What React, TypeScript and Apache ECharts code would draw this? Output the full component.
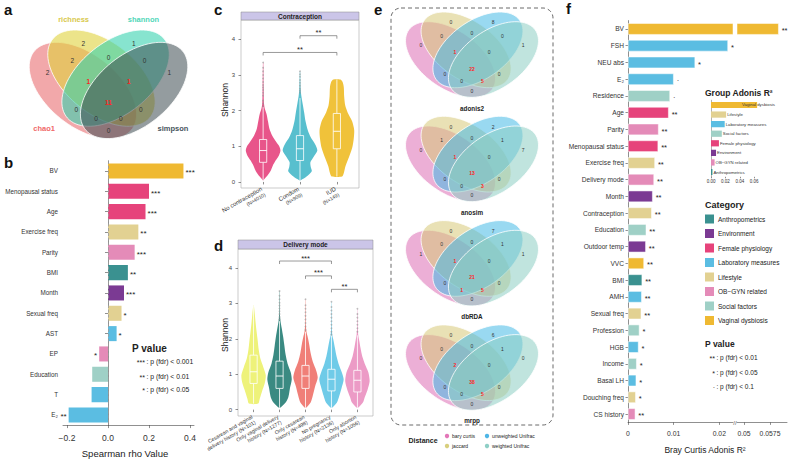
import React, { useEffect, useRef } from "react";
import * as echarts from "echarts";

const FONT = "'Liberation Sans', Arial, Helvetica, sans-serif";

// ---------------- Panel a : alpha-diversity Venn ----------------
const vennRegions = ["A", "B", "C", "D", "AB", "AC", "AD", "BC", "BD", "CD", "ABC", "ABD", "ACD", "BCD", "ABCD"];
const alphaSets = ["chao1", "richness", "shannon", "simpson"];
const alphaCounts = [2, 2, 1, 1, 2, 0, 0, 0, 0, 0, 1, 0, 0, 1, 11];

// ---------------- Panel e : beta-diversity Venns ----------------
const distanceMethods = ["adonis2", "anosim", "dbRDA", "mrpp"];
const distanceNames = ["bary curtis", "jaccard", "unweighted Unifrac", "weighted Unifrac"];
const adonis2Counts = [0, 0, 8, 1, 0, 0, 0, 0, 0, 0, 1, 5, 0, 0, 22];
const anosimCounts = [0, 0, 2, 7, 1, 0, 0, 0, 0, 1, 1, 3, 0, 0, 13];
const dbRDACounts = [1, 0, 7, 1, 0, 0, 0, 0, 0, 1, 1, 5, 1, 0, 21];
const mrppCounts = [0, 0, 6, 0, 0, 0, 0, 0, 0, 1, 2, 5, 0, 0, 38];

// ---------------- Categories ----------------
const categoryNames = ["Anthropometrics", "Environment", "Female physiology", "Laboratory measures", "Lifestyle", "OB\u2212GYN related", "Social factors", "Vaginal dysbiosis"];
const categoryColors = ["#3a9190", "#7b3a93", "#e6437b", "#5bbde2", "#e2d192", "#e48bb8", "#9fd0c6", "#efb932"];

// ---------------- Panel b : Spearman ----------------
const bFactors = ["BV", "Menopausal status", "Age", "Exercise freq", "Parity", "BMI", "Month", "Sexual freq", "AST", "EP", "Education", "T", "E\u2082"];
const bRho = [0.368, 0.2, 0.183, 0.148, 0.13, 0.097, 0.078, 0.066, 0.042, -0.043, -0.077, -0.08, -0.192];
const bSig = ["***", "***", "***", "**", "***", "**", "***", "*", "*", "*", "", "", "**"];
const bCategory = ["Vaginal dysbiosis", "Female physiology", "Female physiology", "Lifestyle", "OB\u2212GYN related", "Anthropometrics", "Environment", "Lifestyle", "Laboratory measures", "OB\u2212GYN related", "Social factors", "Laboratory measures", "Laboratory measures"];
const bTicks = [-0.2, 0, 0.2, 0.4];

// ---------------- Panel f : Adonis R2 ----------------
const fFactors = ["BV", "FSH", "NEU abs", "E\u2082", "Residence", "Age", "Parity", "Menopausal status", "Exercise freq", "Delivery mode", "Month", "Contraception", "Education", "Outdoor temp", "VVC", "BMI", "AMH", "Sexual freq", "Profession", "HGB", "Income", "Basal LH", "Douching freq", "CS history"];
const fR2 = [0.06, 0.0219, 0.0147, 0.01, 0.0092, 0.0089, 0.0067, 0.0066, 0.0059, 0.0057, 0.0054, 0.0052, 0.004, 0.0039, 0.0035, 0.0031, 0.003, 0.0029, 0.0025, 0.0023, 0.0019, 0.0018, 0.0017, 0.0016];
const fSig = ["**", "*", "*", "\u00b7", "\u00b7", "**", "**", "**", "**", "**", "**", "**", "**", "**", "**", "**", "**", "**", "*", "*", "*", "*", "*", "**"];
const fCategory = ["Vaginal dysbiosis", "Laboratory measures", "Laboratory measures", "Laboratory measures", "Social factors", "Female physiology", "OB\u2212GYN related", "Female physiology", "Lifestyle", "OB\u2212GYN related", "Environment", "Lifestyle", "Social factors", "Environment", "Vaginal dysbiosis", "Anthropometrics", "Laboratory measures", "Lifestyle", "Social factors", "Laboratory measures", "Social factors", "Laboratory measures", "Lifestyle", "OB\u2212GYN related"];
const fTicksLow = [0, 0.01, 0.02];
const fTickLabelsLow = ["0", "0.01", "0.02"];
const fTicksHigh = [0.05, 0.0575];
const fTickLabelsHigh = ["0.05", "0.0575"];

const groupNames = ["Vaginal dysbiosis", "Lifestyle", "Laboratory measures", "Social factors", "Female physiology", "Environment", "OB\u2212GYN related", "Anthropometrics"];
const groupR2 = [0.064, 0.021, 0.019, 0.015, 0.011, 0.007, 0.005, 0.002];
const groupTicks = [0, 0.02, 0.04, 0.06];

// ---------------- Panel c : Contraception ----------------
const contraceptionLabels = ["No contraception", "Condom", "IUD"];
const contraceptionN = ["(N=4010)", "(N=909)", "(N=149)"];
const contraceptionColors = ["#e8558a", "#58bfce", "#f0c23a"];
const contraceptionDensity = [
  [[0.05, 0.02], [0.15, 0.2], [0.3, 0.42], [0.45, 0.55], [0.6, 0.72], [0.75, 0.92], [0.88, 1.0], [1.0, 0.93], [1.15, 0.72], [1.3, 0.52], [1.5, 0.36], [1.7, 0.28], [1.9, 0.2], [2.05, 0.1], [2.2, 0.05], [2.6, 0.03], [3.35, 0.01]],
  [[0.05, 0.05], [0.15, 0.38], [0.3, 0.68], [0.42, 0.62], [0.55, 0.6], [0.7, 0.78], [0.88, 1.0], [1.05, 0.88], [1.25, 0.62], [1.45, 0.45], [1.7, 0.32], [1.95, 0.24], [2.2, 0.15], [2.4, 0.08], [2.6, 0.04], [3.1, 0.01]],
  [[0.15, 0.3], [0.25, 0.4], [0.45, 0.5], [0.7, 0.7], [0.95, 0.88], [1.2, 0.97], [1.45, 1.0], [1.7, 0.88], [1.95, 0.62], [2.15, 0.48], [2.4, 0.42], [2.65, 0.4], [2.8, 0.33], [2.87, 0.2]],
];
const contraceptionBox = [
  [0.05, 0.55, 0.88, 1.19, 2.1],
  [0.05, 0.6, 0.93, 1.3, 2.35],
  [0.15, 0.93, 1.42, 1.92, 2.87],
];
const contraceptionOutliers = [
  [2.12, 2.2, 2.28, 2.35, 2.42, 2.5, 2.58, 2.65, 2.72, 2.8, 2.9, 3.0, 3.1, 3.2, 3.35],
  [2.5, 2.56, 2.62, 2.7, 2.78, 2.86, 2.95, 3.02, 3.1],
  [],
];
const contraceptionSig = [[2, 3, 4.1], [1, 3, 3.63]];
const contraceptionSigLabels = ["**", "**"];

// ---------------- Panel d : Delivery mode ----------------
const deliveryLabels = ["Cesarean and vaginal", "Only vaginal delivery", "Only cesarean", "No pregnancy", "Only abortion"];
const deliveryN = ["delivery history (N=101)", "history (N=1277)", "history (N=498)", "history (N=2136)", "history (N=1056)"];
const deliveryColors = ["#eef27a", "#3a8a82", "#f07f78", "#6fcbe8", "#ec9bc6"];
const deliveryDensity = [
  [[0.17, 0.38], [0.3, 0.5], [0.5, 0.68], [0.75, 0.92], [0.97, 1.0], [1.2, 0.8], [1.45, 0.55], [1.7, 0.42], [1.95, 0.34], [2.2, 0.25], [2.45, 0.17], [2.7, 0.1], [2.95, 0.02]],
  [[0.05, 0.05], [0.2, 0.5], [0.35, 0.72], [0.6, 0.85], [0.85, 1.0], [1.05, 0.92], [1.3, 0.66], [1.55, 0.5], [1.8, 0.4], [2.05, 0.3], [2.3, 0.18], [2.5, 0.08], [2.7, 0.03], [3.35, 0.01]],
  [[0.05, 0.05], [0.2, 0.42], [0.4, 0.6], [0.65, 0.78], [0.9, 1.0], [1.1, 0.88], [1.35, 0.6], [1.6, 0.42], [1.85, 0.3], [2.05, 0.18], [2.2, 0.08], [2.4, 0.03], [3.12, 0.01]],
  [[0.05, 0.05], [0.2, 0.45], [0.4, 0.65], [0.6, 0.82], [0.85, 1.0], [1.05, 0.85], [1.3, 0.58], [1.5, 0.42], [1.75, 0.28], [1.95, 0.17], [2.1, 0.07], [2.3, 0.03], [3.05, 0.01]],
  [[0.05, 0.05], [0.2, 0.45], [0.35, 0.6], [0.55, 0.82], [0.8, 1.0], [1.05, 0.9], [1.3, 0.6], [1.5, 0.4], [1.75, 0.25], [1.95, 0.15], [2.1, 0.07], [2.3, 0.03], [2.85, 0.01]],
];
const deliveryBox = [
  [0.17, 0.74, 1.07, 1.54, 2.95],
  [0.05, 0.6, 0.95, 1.37, 2.5],
  [0.05, 0.6, 0.95, 1.25, 2.2],
  [0.05, 0.53, 0.86, 1.14, 2.1],
  [0.05, 0.5, 0.83, 1.11, 2.1],
];
const deliveryOutliers = [
  [],
  [2.55, 2.62, 2.7, 2.78, 2.86, 2.94, 3.02, 3.12, 3.22, 3.35],
  [2.25, 2.35, 2.45, 2.55, 2.65, 2.75, 2.85, 2.95, 3.12],
  [2.12, 2.2, 2.3, 2.4, 2.5, 2.6, 2.7, 2.8, 2.9, 3.05],
  [2.2, 2.3, 2.4, 2.5, 2.6, 2.7, 2.85],
];
const deliverySig = [[2, 4, 4.2], [3, 4, 3.78], [4, 5, 3.4]];
const deliverySigLabels = ["***", "***", "**"];
const shannonTicks = [0, 1, 2, 3, 4];

// ---------------- Venn geometry (unit square, y up) ----------------
const ELL = [
  { cx: 0.355, cy: 0.44, ang: -50 },
  { cx: 0.46, cy: 0.525, ang: -50 },
  { cx: 0.54, cy: 0.525, ang: 50 },
  { cx: 0.645, cy: 0.44, ang: 50 },
];
const ELL_A = 0.39;
const ELL_B = 0.225;
const VTOP = 0.857;
const regionPos: Record<string, number[]> = {
  A: [0.155, 0.565], B: [0.357, 0.765], C: [0.643, 0.765], D: [0.845, 0.565],
  AB: [0.295, 0.648], AC: [0.317, 0.31], AD: [0.5, 0.165], BC: [0.5, 0.669],
  BD: [0.683, 0.31], CD: [0.705, 0.648], ABC: [0.385, 0.503], ABD: [0.57, 0.248],
  ACD: [0.43, 0.248], BCD: [0.615, 0.503], ABCD: [0.5, 0.358],
};

function vennElements(cx: number, top: number, W: number, H: number, fills: string[], counts: number[], fs: number) {
  const tf = (u: number, v: number) => [cx + (u - 0.5) * W, top + (VTOP - v) * H];
  const els: any[] = [];
  ELL.forEach((e, k) => {
    const th = (e.ang * Math.PI) / 180;
    const pts: number[][] = [];
    for (let j = 0; j < 90; j++) {
      const t = (2 * Math.PI * j) / 90;
      const u = e.cx + ELL_A * Math.cos(t) * Math.cos(th) - ELL_B * Math.sin(t) * Math.sin(th);
      const v = e.cy + ELL_A * Math.cos(t) * Math.sin(th) + ELL_B * Math.sin(t) * Math.cos(th);
      pts.push(tf(u, v));
    }
    els.push({ type: "polygon", silent: true, z: 1, shape: { points: pts }, style: { fill: fills[k], stroke: "#ffffff", lineWidth: 0.8 } });
  });
  vennRegions.forEach((r, i) => {
    const p = tf(regionPos[r][0], regionPos[r][1]);
    const red = r.length >= 3 && counts[i] > 0;
    els.push({
      type: "text", silent: true, z: 5, x: p[0], y: p[1],
      style: { text: String(counts[i]), fontSize: fs, fill: red ? "#ff1f1f" : "#333", fontWeight: red ? "bold" : "normal", align: "center", verticalAlign: "middle", fontFamily: FONT },
    });
  });
  return { els, tf };
}

function catColor(name: string) {
  return categoryColors[categoryNames.indexOf(name)];
}

function violinSeries(ax: number, colors: string[], dens: number[][][], box: number[][], outl: number[][]) {
  return {
    type: "custom",
    xAxisIndex: ax,
    yAxisIndex: ax,
    silent: true,
    z: 3,
    data: box.map((b, i) => [i + 1, b[2]]),
    renderItem: (params: any, api: any) => {
      const i = params.dataIndex;
      const x = api.value(0);
      const bw = api.size([1, 0])[0];
      const hw = bw * 0.47;
      const bh = 3.6;
      const c = (y: number) => api.coord([x, y]);
      const pts: number[][] = [];
      dens[i].forEach(([y, w]) => {
        const p = c(y);
        pts.push([p[0] + w * hw, p[1]]);
      });
      for (let k = dens[i].length - 1; k >= 0; k--) {
        const [y, w] = dens[i][k];
        const p = c(y);
        pts.push([p[0] - w * hw, p[1]]);
      }
      const [mn, q1, md, q3, mx] = box[i];
      const px = c(md)[0];
      const children: any[] = [
        { type: "polygon", shape: { points: pts, smooth: 0.25 }, style: { fill: colors[i], stroke: "none" } },
        { type: "line", shape: { x1: px, y1: c(mn)[1], x2: px, y2: c(q1)[1] }, style: { stroke: "#ffffff", lineWidth: 0.8 } },
        { type: "line", shape: { x1: px, y1: c(q3)[1], x2: px, y2: c(mx)[1] }, style: { stroke: "#ffffff", lineWidth: 0.8 } },
        { type: "rect", shape: { x: px - bh, y: c(q3)[1], width: 2 * bh, height: c(q1)[1] - c(q3)[1] }, style: { fill: colors[i], stroke: "#ffffff", lineWidth: 0.8 } },
        { type: "line", shape: { x1: px - bh, y1: c(md)[1], x2: px + bh, y2: c(md)[1] }, style: { stroke: "#ffffff", lineWidth: 0.9 } },
      ];
      outl[i].forEach((y) => {
        children.push({ type: "circle", shape: { cx: px, cy: c(y)[1], r: 0.9 }, style: { fill: "rgba(150,150,150,0.6)" } });
      });
      return { type: "group", children };
    },
  };
}

function bracketSeries(ax: number, sig: number[][], labels: string[]) {
  return {
    type: "custom",
    xAxisIndex: ax,
    yAxisIndex: ax,
    silent: true,
    z: 4,
    data: sig,
    renderItem: (params: any, api: any) => {
      const p1 = api.coord([api.value(0), api.value(2)]);
      const p2 = api.coord([api.value(1), api.value(2)]);
      return {
        type: "group",
        children: [
          { type: "polyline", shape: { points: [[p1[0], p1[1] + 3], [p1[0], p1[1]], [p2[0], p2[1]], [p2[0], p2[1] + 3]] }, style: { stroke: "#555", lineWidth: 0.6, fill: "none" } },
          { type: "text", x: (p1[0] + p2[0]) / 2, y: p1[1] + 1, style: { text: labels[params.dataIndex], fontSize: 7.5, fill: "#222", align: "center", verticalAlign: "bottom", fontFamily: FONT } },
        ],
      };
    },
  };
}

function buildOption() {
  const graphic: any[] = [];
  const txt = (x: number, y: number, text: string, o: any = {}) =>
    graphic.push({ type: "text", silent: true, z: 10, x, y, rotation: o.rotation || 0, style: { text, fontSize: o.fs || 7, fill: o.fill || "#222", fontWeight: o.bold ? "bold" : "normal", align: o.align || "left", verticalAlign: "middle", fontFamily: FONT } });

  // panel letters
  [["a", 4, 9], ["b", 4, 162], ["c", 214, 9], ["d", 214, 245], ["e", 374, 9], ["f", 566, 8]].forEach(([l, x, y]: any) => txt(x, y, l, { fs: 15, bold: true, fill: "#111" }));

  // Panel a venn
  const aFills = ["rgba(232,96,100,0.55)", "rgba(224,210,60,0.6)", "rgba(55,210,175,0.6)", "rgba(60,75,80,0.55)"];
  const va = vennElements(108.5, 30, 176.5, 145, aFills, alphaCounts, 6.5);
  graphic.push(...va.els);
  const aLabelPos = [[0.135, 0.181], [0.302, 0.926], [0.698, 0.926], [0.865, 0.181]];
  const aLabelCol = ["#f06868", "#d8c84a", "#4fd6b8", "#46545c"];
  alphaSets.forEach((s, k) => {
    const p = va.tf(aLabelPos[k][0], aLabelPos[k][1]);
    txt(p[0], p[1], s, { fs: 7.5, bold: true, fill: aLabelCol[k], align: "center" });
  });

  // Panel e venns
  const eFills = ["rgba(220,110,180,0.55)", "rgba(215,200,120,0.55)", "rgba(70,185,230,0.55)", "rgba(140,205,195,0.55)"];
  const eCounts = [adonis2Counts, anosimCounts, dbRDACounts, mrppCounts];
  distanceMethods.forEach((m, i) => {
    const top = 12 + 104.3 * i;
    const ve = vennElements(472, top, 148, 114, eFills, eCounts[i], 5);
    graphic.push(...ve.els);
    txt(472, top + 96, m, { fs: 6.3, bold: true, align: "center" });
  });
  graphic.push({ type: "rect", silent: true, z: 2, shape: { x: 391, y: 8, width: 162, height: 417, r: 10 }, style: { fill: "none", stroke: "#444", lineWidth: 0.8, lineDash: [4, 3] } });
  txt(423, 440, "Distance", { fs: 7, bold: true, align: "center" });
  const dotCol = ["#e377b8", "#d8cf7e", "#4fb6e6", "#8fcfc6"];
  distanceNames.forEach((n, k) => {
    const x = k < 2 ? 447 : 487;
    const y = k % 2 === 0 ? 436 : 446;
    graphic.push({ type: "circle", silent: true, z: 10, shape: { cx: x, cy: y, r: 2.2 }, style: { fill: dotCol[k] } });
    txt(x + 5, y, n, { fs: 5 });
  });

  // Panel b legend & title
  txt(132, 348, "P value", { fs: 10, bold: true });
  const bLeg = [["***", ": p (fdr) < 0.001", 361], ["**", ": p (fdr) < 0.01", 376], ["*", ": p (fdr) < 0.05", 389]];
  bLeg.forEach(([s, t, y]: any) => {
    txt(145, y + 1.5, s, { fs: 7, align: "right" });
    txt(146.5, y, t, { fs: 6.8 });
  });
  txt(125, 453, "Spearman rho Value", { fs: 9.5, align: "center" });

  // Panel c / d strips & y titles
  graphic.push({ type: "rect", silent: true, z: 2, shape: { x: 241, y: 12, width: 118, height: 8 }, style: { fill: "#cbc5e8", stroke: "#888", lineWidth: 0.5 } });
  txt(300, 16, "Contraception", { fs: 6.5, bold: true, align: "center" });
  graphic.push({ type: "rect", silent: true, z: 2, shape: { x: 238, y: 240, width: 135, height: 9 }, style: { fill: "#cbc5e8", stroke: "#888", lineWidth: 0.5 } });
  txt(305.5, 244.5, "Delivery mode", { fs: 6.5, bold: true, align: "center" });
  txt(225, 100, "Shannon", { fs: 8.5, align: "center", rotation: Math.PI / 2 });
  txt(225, 335, "Shannon", { fs: 8.5, align: "center", rotation: Math.PI / 2 });

  // Panel f legends
  txt(705, 93, "Group Adonis R\u00b2", { fs: 8.5, bold: true });
  txt(705, 205, "Category", { fs: 9, bold: true });
  categoryNames.forEach((n, k) => {
    const y = 219 + 14.5 * k;
    graphic.push({ type: "rect", silent: true, z: 10, shape: { x: 705, y: y - 4.5, width: 9, height: 9 }, style: { fill: categoryColors[k] } });
    txt(718, y, n, { fs: 6.5 });
  });
  txt(705, 344, "P value", { fs: 8.5, bold: true });
  const fLeg = [["**", ": p (fdr) < 0.01", 357], ["*", ": p (fdr) < 0.05", 372], ["\u00b7", ": p (fdr) < 0.1", 386]];
  fLeg.forEach(([s, t, y]: any) => {
    txt(715, y + 1.5, s, { fs: 7, align: "right" });
    txt(716.5, y, t, { fs: 6.5 });
  });
  txt(705, 450, "Bray Curtis Adonis R\u00b2", { fs: 8.5, align: "center" });
  txt(735, 423, "//", { fs: 6, align: "center", fill: "#555" });

  const axisText = { color: "#333", fontFamily: FONT };
  const lineSty = { color: "#444", width: 0.6 };
  const f1Max = 0.023;
  const f2Min = 0.04798;

  return {
    animation: false,
    backgroundColor: "#ffffff",
    textStyle: { fontFamily: FONT },
    graphic,
    grid: [
      { left: 63, top: 160.8, width: 131, height: 264.3 },
      { left: 241, top: 20, width: 118, height: 168, show: true, borderColor: "#aaa", borderWidth: 0.6, backgroundColor: "#fff" },
      { left: 238, top: 249, width: 135, height: 167, show: true, borderColor: "#aaa", borderWidth: 0.6, backgroundColor: "#fff" },
      { left: 628, top: 20.6, width: 105, height: 401.8 },
      { left: 737, top: 20.6, width: 50, height: 401.8 },
      { left: 711, top: 100.2, width: 49, height: 76.6 },
    ],
    xAxis: [
      {
        type: "value", gridIndex: 0, min: -0.2195, max: 0.4195,
        splitLine: { show: false },
        axisLine: { show: true, lineStyle: lineSty },
        axisTick: { show: true, length: 3, customValues: bTicks, lineStyle: lineSty },
        axisLabel: { customValues: bTicks, fontSize: 8.5, margin: 8, ...axisText, formatter: (v: number) => (v < 0 ? "\u2212" + Math.abs(v).toFixed(1) : v.toFixed(1)) },
      },
      {
        type: "value", gridIndex: 1, min: 0.4, max: 3.6,
        splitLine: { show: false }, axisLine: { show: false },
        axisTick: { show: true, length: 2.5, customValues: [1, 2, 3], lineStyle: lineSty },
        axisLabel: {
          customValues: [1, 2, 3], rotate: 30, margin: 3,
          formatter: (v: number) => { const i = Math.round(v) - 1; return `{a|${contraceptionLabels[i]}}\n{b|${contraceptionN[i]}}`; },
          rich: { a: { fontSize: 6, color: "#333", fontFamily: FONT, lineHeight: 7 }, b: { fontSize: 5, color: "#333", fontFamily: FONT, lineHeight: 6 } },
        },
      },
      {
        type: "value", gridIndex: 2, min: 0.4, max: 5.6,
        splitLine: { show: false }, axisLine: { show: false },
        axisTick: { show: true, length: 2.5, customValues: [1, 2, 3, 4, 5], lineStyle: lineSty },
        axisLabel: {
          customValues: [1, 2, 3, 4, 5], rotate: 30, margin: 3,
          formatter: (v: number) => { const i = Math.round(v) - 1; return `{a|${deliveryLabels[i]}}\n{a|${deliveryN[i]}}`; },
          rich: { a: { fontSize: 5.2, color: "#333", fontFamily: FONT, lineHeight: 6.2 } },
        },
      },
      {
        type: "value", gridIndex: 3, min: 0, max: f1Max,
        splitLine: { show: false },
        axisLine: { show: true, lineStyle: lineSty },
        axisTick: { show: true, length: 2.5, customValues: fTicksLow, lineStyle: lineSty },
        axisLabel: { customValues: fTicksLow, fontSize: 6.8, margin: 8, ...axisText, formatter: (v: number) => fTickLabelsLow[fTicksLow.findIndex((t) => Math.abs(t - v) < 1e-9)] ?? "" },
      },
      {
        type: "value", gridIndex: 4, min: f2Min, max: 0.0624,
        splitLine: { show: false },
        axisLine: { show: true, lineStyle: lineSty },
        axisTick: { show: true, length: 2.5, customValues: fTicksHigh, lineStyle: lineSty },
        axisLabel: { customValues: fTicksHigh, fontSize: 6.8, margin: 8, ...axisText, formatter: (v: number) => fTickLabelsHigh[fTicksHigh.findIndex((t) => Math.abs(t - v) < 1e-9)] ?? "" },
      },
      {
        type: "value", gridIndex: 5, min: 0, max: 0.068,
        splitLine: { show: false },
        axisLine: { show: false },
        axisTick: { show: true, length: 1.5, customValues: groupTicks, lineStyle: lineSty },
        axisLabel: { customValues: groupTicks, fontSize: 4.5, margin: 2.5, ...axisText, formatter: (v: number) => v.toFixed(2) },
      },
    ],
    yAxis: [
      {
        type: "category", gridIndex: 0, data: bFactors, inverse: true,
        axisLine: { show: true, lineStyle: lineSty },
        axisTick: { show: true, length: 3, alignWithLabel: true, lineStyle: lineSty },
        axisLabel: { fontSize: 6.3, margin: 5, ...axisText },
      },
      {
        type: "value", gridIndex: 1, min: -0.17, max: 4.54,
        splitLine: { show: false }, axisLine: { show: false },
        axisTick: { show: true, length: 2.5, customValues: shannonTicks, lineStyle: lineSty },
        axisLabel: { customValues: shannonTicks, fontSize: 6, margin: 6, color: "#444", fontFamily: FONT },
      },
      {
        type: "value", gridIndex: 2, min: -0.18, max: 4.54,
        splitLine: { show: false }, axisLine: { show: false },
        axisTick: { show: true, length: 2.5, customValues: shannonTicks, lineStyle: lineSty },
        axisLabel: { customValues: shannonTicks, fontSize: 6, margin: 6, color: "#444", fontFamily: FONT },
      },
      {
        type: "category", gridIndex: 3, data: fFactors, inverse: true,
        axisLine: { show: true, lineStyle: lineSty },
        axisTick: { show: true, length: 2.5, alignWithLabel: true, lineStyle: lineSty },
        axisLabel: { fontSize: 6.6, margin: 4, ...axisText },
      },
      { type: "category", gridIndex: 4, data: fFactors, inverse: true, show: false },
      {
        type: "category", gridIndex: 5, data: groupNames, inverse: true,
        axisLine: { show: true, lineStyle: { color: "#666", width: 0.5 } },
        axisTick: { show: false }, axisLabel: { show: false },
      },
    ],
    series: [
      {
        type: "bar", xAxisIndex: 0, yAxisIndex: 0, barCategoryGap: "26%",
        data: bRho.map((v, i) => ({ value: v, itemStyle: { color: catColor(bCategory[i]) }, label: { position: v >= 0 ? "right" : "left" } })),
        label: { show: true, formatter: (p: any) => bSig[p.dataIndex], fontSize: 8, color: "#222", distance: 2, offset: [0, 1.8], fontFamily: FONT },
        markLine: { silent: true, symbol: "none", label: { show: false }, lineStyle: { type: "dashed", color: "#999", width: 0.8 }, data: [{ xAxis: 0 }] },
      },
      violinSeries(1, contraceptionColors, contraceptionDensity, contraceptionBox, contraceptionOutliers),
      bracketSeries(1, contraceptionSig, contraceptionSigLabels),
      violinSeries(2, deliveryColors, deliveryDensity, deliveryBox, deliveryOutliers),
      bracketSeries(2, deliverySig, deliverySigLabels),
      {
        type: "bar", xAxisIndex: 3, yAxisIndex: 3, barCategoryGap: "32%",
        data: fR2.map((v, i) => ({ value: v, itemStyle: { color: catColor(fCategory[i]), borderColor: "#fff", borderWidth: 0.5 } })),
        label: { show: true, position: "right", formatter: (p: any) => (p.value <= f1Max ? fSig[p.dataIndex] : ""), fontSize: 7.5, color: "#222", distance: 3, offset: [0, 1.6], fontFamily: FONT },
      },
      {
        type: "bar", xAxisIndex: 4, yAxisIndex: 4, barCategoryGap: "32%",
        data: fR2.map((v, i) => (v > f2Min ? { value: v, itemStyle: { color: catColor(fCategory[i]), borderColor: "#fff", borderWidth: 0.5 } } : "-")),
        label: { show: true, position: "right", formatter: (p: any) => fSig[p.dataIndex], fontSize: 7.5, color: "#222", distance: 3, offset: [0, 1.6], fontFamily: FONT },
      },
      {
        type: "bar", xAxisIndex: 5, yAxisIndex: 5, barCategoryGap: "35%",
        data: groupR2.map((v, i) => ({
          value: v,
          itemStyle: { color: catColor(groupNames[i]) },
          label: i === 0 ? { position: [31, "50%"], align: "left", verticalAlign: "middle" } : {},
        })),
        label: { show: true, position: "right", distance: 1, formatter: (p: any) => groupNames[p.dataIndex], fontSize: 4.3, color: "#333", fontFamily: FONT },
      },
    ],
  };
}

export default function App() {
  const ref = useRef<HTMLDivElement>(null);
  useEffect(() => {
    const chart = echarts.init(ref.current as HTMLDivElement, null, { renderer: "svg", width: 790, height: 459 });
    chart.setOption(buildOption() as any);
    return () => chart.dispose();
  }, []);
  return <div ref={ref} style={{ position: "absolute", left: 0, top: 0, width: 790, height: 459, background: "#fff" }} />;
}
